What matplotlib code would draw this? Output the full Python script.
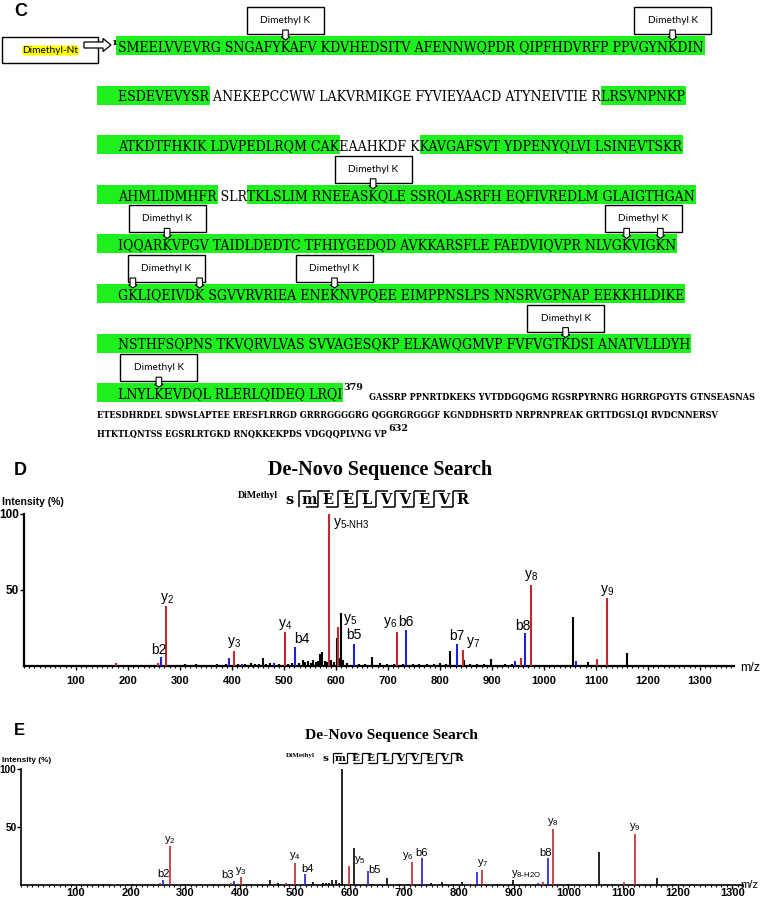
import matplotlib
matplotlib.use("Agg")
import matplotlib.pyplot as plt
from matplotlib.font_manager import FontProperties
from matplotlib.patches import Rectangle, Polygon, FancyBboxPatch
from matplotlib.ticker import FixedLocator, MultipleLocator

plt.rcParams["mathtext.fontset"] = "custom"
plt.rcParams["mathtext.rm"] = "Liberation Sans"
plt.rcParams["mathtext.it"] = "Liberation Sans:italic"
plt.rcParams["mathtext.bf"] = "Liberation Sans:bold"

W, H, DPI = 760, 901, 100

# ======================= DATA =======================
seq_rows = [
    [("SMEELVVEVRG SNGAFYKAFV KDVHEDSITV AFENNWQPDR QIPFHDVRFP PPVGYNKDIN", True)],
    [("ESDEVEVYSR", True), (" ANEKEPCCWW LAKVRMIKGE FYVIEYAACD ATYNEIVTIE R", False), ("LRSVNPNKP", True)],
    [("ATKDTFHKIK LDVPEDLRQM CAK", True), ("EAAHKDF K", False), ("KAVGAFSVT YDPENYQLVI LSINEVTSKR", True)],
    [("AHMLIDMHFR", True), (" SLR", False), ("TKLSLIM RNEEASKQLE SSRQLASRFH EQFIVREDLM GLAIGTHGAN", True)],
    [("IQQARKVPGV TAIDLDEDTC TFHIYGEDQD AVKKARSFLE FAEDVIQVPR NLVGKVIGKN", True)],
    [("GKLIQEIVDK SGVVRVRIEA ENEKNVPQEE EIMPPNSLPS NNSRVGPNAP EEKKHLDIKE", True)],
    [("NSTHFSQPNS TKVQRVLVAS SVVAGESQKP ELKAWQGMVP FVFVGTKDSI ANATVLLDYH", True)],
    [("LNYLKEVDQL RLERLQIDEQ LRQI", True)],
]
# (row, character indices of the dimethylated K residues sharing one callout)
dimethyl_k_sites = [(0, [18]), (0, [62]), (3, [28]), (4, [5]), (4, [59, 63]),
                    (5, [1, 9]), (5, [25]), (6, [50]), (7, [4])]
nterm_label = "Dimethyl-Nt"
kmod_label = "Dimethyl K"
first_residue = 1
tail_first_residue = 379
tail_last_residue = 632
tail_lines = [
    "GASSRP PPNRTDKEKS YVTDDGQGMG RGSRPYRNRG HGRRGPGYTS GTNSEASNAS",
    "ETESDHRDEL SDWSLAPTEE ERESFLRRGD GRRRGGGGRG QGGRGRGGGF KGNDDHSRTD NRPRNPREAK GRTTDGSLQI RVDCNNERSV",
    "HTKTLQNTSS EGSRLRTGKD RNQKKEKPDS VDGQQPLVNG VP",
]

title_text = "De-Novo Sequence Search"
peptide_mod = "DiMethyl"
peptide_residues = ["s", "m", "E", "E", "L", "V", "V", "E", "V", "R"]
mz_ticks = [100, 200, 300, 400, 500, 600, 700, 800, 900, 1000, 1100, 1200, 1300]
intensity_ticks = [50, 100]

# Panel D peaks (m/z, relative intensity %)
d_red = [(176, 2), (257, 2), (274, 39.7), (404, 10), (502.5, 22.4), (587, 100), (603, 25.6),
         (716.7, 22.6), (843.6, 10.3), (956, 5), (975, 53), (1102, 4.6), (1121, 45)]
d_blue = [(263, 6), (394, 5), (419, 1), (481, 2), (521, 12.7), (634.6, 14.5), (734.6, 24),
          (833, 14.6), (943.6, 3), (963.5, 22), (1061, 3)]
d_black = [(205, 0.8), (232, 0.8), (290, 0.8), (310, 1), (330, 1), (352, 0.8), (372, 1), (388, 1.2),
           (412, 1), (425, 1.5), (436, 2), (444, 1.5), (452, 1.2), (459, 5), (466, 1.5), (474, 2),
           (490, 1.5), (508, 1.5), (515, 2), (528, 2), (536, 4), (541, 2.5), (547, 3.5), (551, 2),
           (556, 4), (561, 2.5), (565, 3), (570, 8), (574, 9), (579, 3), (583, 2.5), (591, 4),
           (596, 2.5), (601, 18.5), (606, 5), (610, 35), (614, 4), (622, 2), (645, 1.5), (655, 1.5),
           (669, 6), (684, 2), (698, 1.5), (712, 1.5), (728, 1.5), (748, 1.5), (760, 1.5), (775, 1.2),
           (789, 1.2), (800, 2), (812, 1), (820, 10), (846, 4), (858, 1.5), (872, 1.2), (884, 1.2),
           (898, 4.5), (925, 1.2), (938, 1.5), (1055, 32), (1084, 2.5), (1160, 8.3)]
d_labels = [("y2", 274), ("b2", 263), ("y3", 404), ("y4", 502.5), ("b4", 521), ("y5-NH3", 587),
            ("y5", 603), ("b5", 634.6), ("y6", 716.7), ("b6", 734.6), ("b7", 833), ("y7", 843.6),
            ("b8", 963.5), ("y8", 975), ("y9", 1121)]

# Panel E peaks
e_red = [(171, 1), (253.6, 1.5), (271.8, 34), (383, 1.5), (401, 6.6), (484, 1.5), (500, 19),
         (599.7, 16), (713.7, 20), (825, 1), (843, 13), (954, 2.6), (972.6, 48), (1102, 2.6), (1122, 44)]
e_blue = [(259.7, 4.3), (389.5, 3.4), (518.6, 9.3), (633.5, 12.4), (732.3, 23.3), (815, 1),
          (832.5, 11.6), (944, 2), (962, 23.5), (1062, 1)]
e_black = [(150, 0.5), (205, 0.6), (232, 0.8), (300, 0.6), (352, 0.6), (420, 0.8), (440, 1),
           (454.7, 4.3), (469, 2), (533, 2.2), (551, 1.5), (557, 2), (563, 1.5), (568.6, 4), (575, 4),
           (580, 2), (585.7, 100), (608, 31.6), (640, 1), (669, 5.9), (690, 1), (749, 2), (768.6, 2.5),
           (790, 1), (806, 2.5), (870, 1), (898, 4.3), (920, 1), (1000, 0.8), (1056.7, 28.7),
           (1080, 0.8), (1161.5, 5.7), (1191, 1)]
e_labels = [("y2", 271.8), ("b2", 259.7), ("b3", 389.5), ("y3", 401), ("y4", 500), ("b4", 518.6),
            ("y5", 599.7), ("b5", 633.5), ("y6", 713.7), ("b6", 732.3), ("y7", 843),
            ("y8-H2O", 898), ("b8", 962), ("y8", 972.6), ("y9", 1122)]

# ======================= STYLE =======================
GREEN = "#1ef01e"
RED = "#c3282e"
BLUE = "#2020d8"
SEQ_FP = dict(family="DejaVu Serif", stretch="condensed")
SANS = "Liberation Sans"

# label placement tweaks: (ha, dx_px, dy_px)
d_label_style = {"y2": ("center", 0, 0), "b2": ("center", -2, 0), "y3": ("center", 0, 1),
                 "y4": ("center", 0, 0), "b4": ("center", 7, 1), "y5-NH3": ("left", 4, -17),
                 "y5": ("left", 5, 0), "b5": ("center", 0, 2), "y6": ("right", 0, 2),
                 "b6": ("center", 0, 1), "b7": ("center", 0, 1), "y7": ("left", 3, 0),
                 "b8": ("center", -2.5, 0), "y8": ("center", 0, 2), "y9": ("center", 0, 0)}
e_label_style = {"y2": ("center", 0, 0), "b2": ("center", 0, 1), "b3": ("right", -1, 1),
                 "y3": ("center", 0, 0), "y4": ("center", 0, 1), "b4": ("center", 2, 0),
                 "y5": ("left", 5, 0), "b5": ("left", 0, -4), "y6": ("right", 1.5, 0),
                 "b6": ("center", 0, 0), "y7": ("center", 0, 1), "y8-H2O": ("left", -1.5, 0),
                 "b8": ("center", -1.5, 0), "y8": ("center", 0, 1), "y9": ("center", 0, 1)}

fig = plt.figure(figsize=(W / DPI, H / DPI), dpi=DPI)
renderer = fig.canvas.get_renderer()

bg = fig.add_axes([0, 0, 1, 1])
bg.set_xlim(0, W)
bg.set_ylim(H, 0)
bg.axis("off")


def fprop(size, **kw):
    return FontProperties(size=size, **kw)


def twidth(s, fp):
    if not s:
        return 0.0
    return renderer.get_text_width_height_descent(s, fp, ismath=False)[0]


def fit_size(s, target, **kw):
    return 10.0 * target / twidth(s, fprop(10, **kw))


def T(x, y, s, **kw):
    return bg.text(x, y, s, **kw)


# ======================= PANEL C =======================
T(14, 15.5, "C", fontproperties=fprop(13, family=SANS, weight="bold"), va="baseline", ha="left")

row_x0, row_c0, row_step, row_h = 118, 45.5, 49.6, 19
row_full = ["".join(t for t, _ in segs) for segs in seq_rows]
seq_size = fit_size(row_full[0], 587, **SEQ_FP)
fp_seq = fprop(seq_size, **SEQ_FP)

row_end = []
for r, segs in enumerate(seq_rows):
    yc = row_c0 + r * row_step
    full = row_full[r]
    T(row_x0, yc + 5.5, full, fontproperties=fp_seq, va="baseline", ha="left", zorder=3)
    pos = 0
    for t, hl in segs:
        s, e = pos, pos + len(t)
        pos = e
        if not hl:
            continue
        left = (116 if r == 0 else 97) if s == 0 else row_x0 + twidth(full[:s], fp_seq)
        right = row_x0 + twidth(full[:e], fp_seq) + 1
        bg.add_patch(Rectangle((left, yc - row_h / 2), right - left, row_h,
                               facecolor=GREEN, edgecolor="none", zorder=1))
    row_end.append(row_x0 + twidth(full, fp_seq))

# Dimethyl K callouts
k_size = fit_size(kmod_label, 50, family="Lato")
for r, idxs in dimethyl_k_sites:
    yc = row_c0 + r * row_step
    full = row_full[r]
    xs = [row_x0 + twidth(full[:i], fp_seq) + twidth(full[i], fp_seq) / 2 for i in idxs]
    row_top = yc - row_h / 2
    cx = sum(xs) / len(xs)
    bw, bh = 77, 27
    bottom = row_top - 2
    bg.add_patch(Rectangle((cx - bw / 2, bottom - bh), bw, bh, facecolor="white",
                           edgecolor="black", lw=1.0, zorder=4))
    T(cx, bottom - bh / 2, kmod_label, fontproperties=fprop(k_size, family="Lato"),
      ha="center", va="center", zorder=5)
    for x in xs:
        top, mid, tip = bottom - 4, row_top + 1, row_top + 4
        pts = [(x - 2.8, top), (x + 2.8, top), (x + 2.8, mid), (x + 4.2, mid), (x, tip),
               (x - 4.2, mid), (x - 2.8, mid)]
        bg.add_patch(Polygon(pts, closed=True, facecolor="white", edgecolor="black",
                             lw=0.8, zorder=6))

# Dimethyl-Nt box
bg.add_patch(Rectangle((2, 37), 96, 26, facecolor="white", edgecolor="black", lw=1.0, zorder=4))
bg.add_patch(FancyBboxPatch((22, 45.5), 57, 10, boxstyle="round,pad=0,rounding_size=3",
                            facecolor="#ffff00", edgecolor="none", zorder=5))
T(50.5, 50.8, nterm_label, fontproperties=fprop(fit_size(nterm_label, 56, family="Lato"), family="Lato"),
  ha="center", va="center", zorder=6)
arrow_pts = [(84, 42), (103, 42), (103, 38.5), (111, 45), (103, 51.5), (103, 48), (84, 48)]
bg.add_patch(Polygon(arrow_pts, closed=True, facecolor="white", edgecolor="black", lw=0.9, zorder=7))
T(111.5, 43, str(first_residue), fontproperties=fprop(6, family="DejaVu Serif", weight="bold"),
  ha="left", va="center", zorder=7)

# tail of the sequence (not covered)
sup_size = fit_size(str(tail_first_residue), 20, family="DejaVu Serif", weight="bold")
yc8 = row_c0 + 7 * row_step
T(row_end[7] + 1.5, yc8 - 5, str(tail_first_residue),
  fontproperties=fprop(sup_size, family="DejaVu Serif", weight="bold"), ha="left", va="center")
tail_size = min(fit_size(tail_lines[1], 638, weight="bold", **SEQ_FP),
                fit_size(tail_lines[0], 386, weight="bold", **SEQ_FP))
fp_tail = fprop(tail_size, weight="bold", **SEQ_FP)
T(369, 399.5, tail_lines[0], fontproperties=fp_tail, ha="left", va="baseline")
T(97, 417.5, tail_lines[1], fontproperties=fp_tail, ha="left", va="baseline")
T(97, 437, tail_lines[2], fontproperties=fp_tail, ha="left", va="baseline")
end3 = 97 + twidth(tail_lines[2], fp_tail)
T(end3 + 1.5, 428.5, str(tail_last_residue),
  fontproperties=fprop(sup_size, family="DejaVu Serif", weight="bold"), ha="left", va="center")


# ======================= PEPTIDE HEADER =======================
def draw_peptide(x0, step, ytop, ybot, size, mod_cx, mod_w, mod_y, lw):
    mfp = fprop(fit_size(peptide_mod, mod_w, family="Liberation Serif", weight="bold"),
                family="Liberation Serif", weight="bold")
    T(mod_cx, mod_y, peptide_mod, fontproperties=mfp, ha="center", va="center")
    lfp = fprop(size, family="DejaVu Serif", weight="bold")
    yc = (ytop + ybot) / 2
    hook = step * 0.62
    for i, res in enumerate(peptide_residues):
        x = x0 + i * step
        T(x, yc + 0.5, res, fontproperties=lfp, ha="center", va="center")
        if i > 0:
            sx = x - step / 2 - 0.5
            bg.plot([sx, sx], [ytop, ybot], color="black", lw=lw, solid_capstyle="butt")
            bg.plot([sx, sx + hook], [ytop, ytop], color="black", lw=lw, solid_capstyle="butt")
            if i > 1:
                bg.plot([sx - hook, sx], [ybot, ybot], color="black", lw=lw, solid_capstyle="butt")


# ======================= SPECTRA =======================
def ion_text(lbl):
    if lbl.startswith("y"):
        return r"$\mathregular{y_{%s}}$" % lbl[1:].replace("-", "\u2010")
    return lbl


def spectrum(left_px, bottom_px, top_px, px_per_mz, xmax, red, blue, black, labels, lstyle,
             lsize, peak_lw, spine_lw, ytick_size, xpad):
    ax = fig.add_axes([left_px / W, 1 - bottom_px / H, xmax * px_per_mz / W, (bottom_px - top_px) / H])
    ax.set_facecolor("none")
    ax.set_xlim(0, xmax)
    ax.set_ylim(0, 100)
    for sp in ("top", "right"):
        ax.spines[sp].set_visible(False)
    for sp in ("left", "bottom"):
        ax.spines[sp].set_linewidth(spine_lw)
    for pk, col in ((black, "black"), (red, RED), (blue, BLUE)):
        mz = [p[0] for p in pk]
        it = [p[1] for p in pk]
        ax.vlines(mz, 0, it, colors=col, lw=peak_lw, clip_on=False, zorder=3)
    ax.xaxis.set_major_locator(FixedLocator(mz_ticks))
    ax.xaxis.set_minor_locator(MultipleLocator(10))
    ax.yaxis.set_major_locator(FixedLocator(intensity_ticks))
    ax.tick_params(axis="x", which="major", direction="out", length=3, width=1.0, pad=xpad)
    ax.tick_params(axis="x", which="minor", direction="out", length=1.6, width=0.8)
    ax.tick_params(axis="y", which="major", direction="out", length=3, width=1.0, pad=0.5)
    for lab in ax.get_xticklabels():
        lab.set_fontproperties(fprop(8, family=SANS, weight="bold"))
    for lab in ax.get_yticklabels():
        lab.set_fontproperties(fprop(ytick_size, family=SANS, weight="bold"))
    allpk = red + blue + black
    for lbl, mz in labels:
        inten = min(allpk, key=lambda p: abs(p[0] - mz))[1]
        ha, dx, dy = lstyle[lbl]
        ax.annotate(ion_text(lbl), xy=(mz, inten), xytext=(dx * 0.72, dy * 0.72),
                    textcoords="offset points", ha=ha, va="bottom",
                    fontproperties=fprop(lsize, family=SANS), annotation_clip=False, zorder=4)
    return ax


# ----- Panel D -----
T(14, 475, "D", fontproperties=fprop(13, family=SANS, weight="bold"), ha="left", va="baseline")
T(380, 475.5, title_text,
  fontproperties=fprop(fit_size(title_text, 225, family="Liberation Serif", weight="bold"),
                       family="Liberation Serif", weight="bold"), ha="center", va="baseline")
draw_peptide(290, 19.2, 491, 507, 10.5, 258, 40, 496, 1.1)
T(1.5, 502, "Intensity (%)", fontproperties=fprop(fit_size("Intensity (%)", 62, family=SANS, weight="bold"),
                                                     family=SANS, weight="bold"), ha="left", va="center")
spectrum(24, 666, 514, 0.52, 1365, d_red, d_blue, d_black, d_labels, d_label_style,
         10, 1.5, 1.6, 8.5, 4)
T(750, 668, "m/z", fontproperties=fprop(9, family=SANS), ha="center", va="center")

# ----- Panel E -----
T(14, 735, "E", fontproperties=fprop(12, family=SANS, weight="bold"), ha="left", va="baseline")
T(391.5, 739.5, title_text,
  fontproperties=fprop(fit_size(title_text, 173, family="Liberation Serif", weight="bold"),
                       family="Liberation Serif", weight="bold"), ha="center", va="baseline")
draw_peptide(325.7, 14.78, 752.7, 762.7, 7.5, 300.5, 29, 756, 0.9)
T(1.5, 760, "Intensity (%)", fontproperties=fprop(fit_size("Intensity (%)", 49, family=SANS, weight="bold"),
                                                     family=SANS, weight="bold"), ha="left", va="center")
spectrum(21.3, 885, 769, 0.547, 1320, e_red, e_blue, e_black, e_labels, e_label_style,
         8, 1.2, 1.2, 7.2, -1)
T(758, 885, "m/z", fontproperties=fprop(8, family=SANS), ha="right", va="center")

fig.savefig("out.png", dpi=DPI)
